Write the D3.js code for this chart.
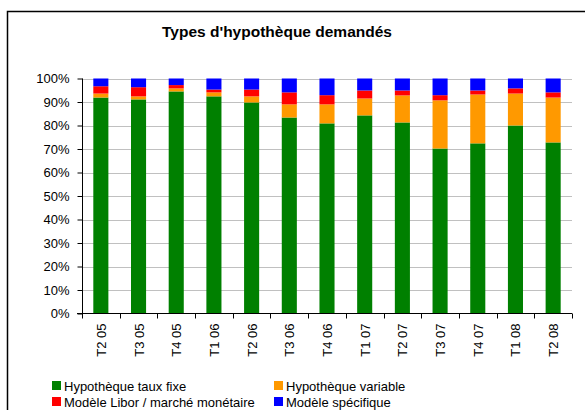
<!DOCTYPE html>
<html><head><meta charset="utf-8">
<script src="https://cdn.jsdelivr.net/npm/d3@7"></script>
<style>html,body{margin:0;padding:0;background:#fff;}svg{display:block;font-family:"Liberation Sans",Arial,sans-serif;}</style>
</head><body>
<svg id="c" width="585" height="410"></svg>
<script>
const categories = ["T2 05","T3 05","T4 05","T1 06","T2 06","T3 06","T4 06","T1 07","T2 07","T3 07","T4 07","T1 08","T2 08"];
const seriesNames = ["Hypothèque taux fixe","Hypothèque variable","Modèle Libor / marché monétaire","Modèle spécifique"];
const tauxFixe   = [91.9,91.1,94.5,92.4,89.8,83.4,80.9,84.3,81.3,70.2,72.4,80.0,72.8];
const variable   = [1.7,1.3,1.3,1.7,2.6,5.6,8.1,7.2,11.5,20.5,20.8,13.6,19.1];
const libor      = [3.1,3.9,1.4,1.2,2.9,5.1,3.9,3.4,2.1,2.2,1.7,2.2,2.2];
const specifique = [3.3,3.7,2.8,4.7,4.7,5.9,7.1,5.1,5.1,7.1,5.1,4.2,5.9];
const yTicks = [0,10,20,30,40,50,60,70,80,90,100];
const colors = ["#008000","#FF9900","#FF0000","#0000FF"];

const svg = d3.select("#c");
svg.append("rect").attr("x",7.5).attr("y",11.5).attr("width",620).attr("height",450)
  .attr("fill","#fff").attr("stroke","#000").attr("stroke-width",1.5);

svg.append("text").attr("x",277).attr("y",37).attr("text-anchor","middle")
  .attr("font-weight","bold").attr("font-size","15.5px").text("Types d'hypothèque demandés");

const x = d3.scaleBand().domain(categories).range([82,572]).paddingInner(0.6).paddingOuter(0.3);
const y = d3.scaleLinear().domain([0,100]).range([313.5,78.5]);

// gridlines
svg.append("g").selectAll("line").data(yTicks.filter(t=>t>0)).join("line")
  .attr("x1",82).attr("x2",572).attr("y1",d=>Math.round(y(d))+0.5).attr("y2",d=>Math.round(y(d))+0.5)
  .attr("stroke","#c0c0c0").attr("stroke-width",1);

const rows = categories.map((c,i)=>({cat:c, s0:tauxFixe[i], s1:variable[i], s2:libor[i], s3:specifique[i]}));
const stack = d3.stack().keys(["s0","s1","s2","s3"])(rows);
svg.append("g").selectAll("g").data(stack).join("g").attr("fill",(d,i)=>colors[i])
  .selectAll("rect").data(d=>d).join("rect")
  .attr("x",d=>x(d.data.cat)).attr("width",x.bandwidth())
  .attr("y",d=>y(d[1])).attr("height",d=>y(d[0])-y(d[1]));

// y axis
const ya = d3.axisLeft(y).tickValues(yTicks).tickFormat(d=>d+"%").tickSize(5).tickPadding(8);
const gy = svg.append("g").attr("transform","translate(82.5,0)").call(ya);
gy.select(".domain").attr("d","M0,78.5V313.5").attr("stroke","#000");
gy.selectAll("text").attr("font-size","13px").attr("fill","#000").attr("font-family","Liberation Sans, Arial, sans-serif");

// x axis
const xEdges = d3.scaleBand().domain(categories).range([82,572]);
const gx = svg.append("g").attr("transform","translate(0,313.5)");
gx.append("line").attr("x1",77).attr("x2",572).attr("stroke","#000");
gx.selectAll(".tk").data(categories.concat(["_end"])).join("line").attr("class","tk")
  .attr("x1",(d,i)=>Math.round(82+i*xEdges.step())+0.5).attr("x2",(d,i)=>Math.round(82+i*xEdges.step())+0.5)
  .attr("y1",0).attr("y2",5).attr("stroke","#000");
gx.selectAll("text").data(categories).join("text")
  .attr("transform",d=>`translate(${x(d)+x.bandwidth()/2+5},10) rotate(-90)`)
  .attr("text-anchor","end").attr("font-size","13px").text(d=>d);

// legend
const legendPos = [[52,386],[274,386],[52,402],[274,402]];
const lg = svg.append("g");
seriesNames.forEach((n,i)=>{
  const [lx,ly]=legendPos[i];
  lg.append("rect").attr("x",lx).attr("y",ly-5).attr("width",9).attr("height",9).attr("fill",colors[i]);
  lg.append("text").attr("x",lx+12).attr("y",ly+4.5).attr("font-size","13px").text(n);
});
</script>
</body></html>
